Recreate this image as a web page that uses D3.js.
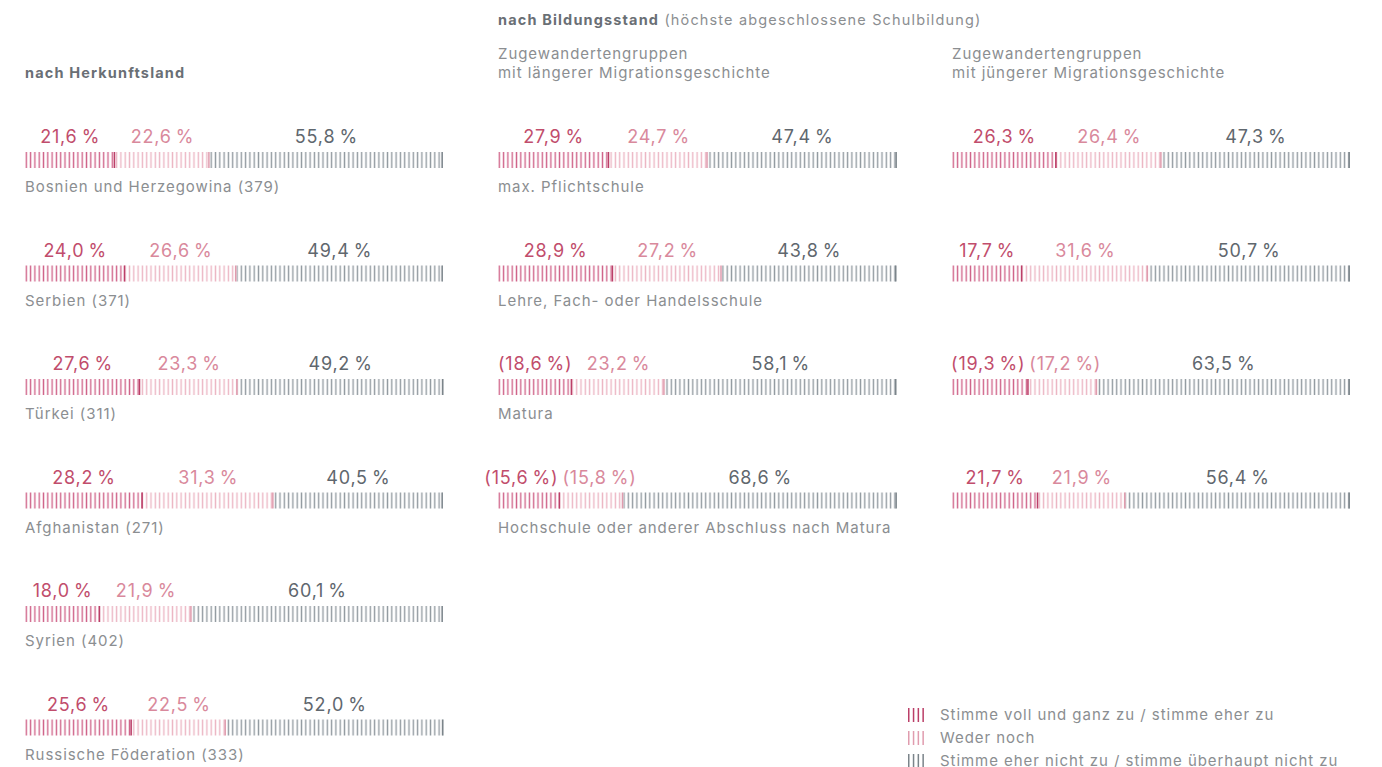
<!DOCTYPE html>
<html><head><meta charset="utf-8">
<script src="https://cdn.jsdelivr.net/npm/d3@7"></script>
<style>
html,body{margin:0;padding:0;background:#fff;}
svg text{font-family:Inter,"Noto Sans",sans-serif;}
</style></head>
<body>
<svg id="c" width="1382" height="767"></svg>
<script>
// ---- data ----
const segmentKeys = ["zu", "weder", "nicht"];
const legendLabels = ["Stimme voll und ganz zu / stimme eher zu", "Weder noch", "Stimme eher nicht zu / stimme überhaupt nicht zu"];

const herkunftCategories = ["Bosnien und Herzegowina (379)", "Serbien (371)", "Türkei (311)", "Afghanistan (271)", "Syrien (402)", "Russische Föderation (333)"];
const herkunftZu    = [21.6, 24.0, 27.6, 28.2, 18.0, 25.6];
const herkunftWeder = [22.6, 26.6, 23.3, 31.3, 21.9, 22.5];
const herkunftNicht = [55.8, 49.4, 49.2, 40.5, 60.1, 52.0];
const herkunftParen = [[0,0,0],[0,0,0],[0,0,0],[0,0,0],[0,0,0],[0,0,0]];

const bildungCategories = ["max. Pflichtschule", "Lehre, Fach- oder Handelsschule", "Matura", "Hochschule oder anderer Abschluss nach Matura"];
const laengerZu    = [27.9, 28.9, 18.6, 15.6];
const laengerWeder = [24.7, 27.2, 23.2, 15.8];
const laengerNicht = [47.4, 43.8, 58.1, 68.6];
const laengerParen = [[0,0,0],[0,0,0],[1,0,0],[1,1,0]];

const juengerZu    = [26.3, 17.7, 19.3, 21.7];
const juengerWeder = [26.4, 31.6, 17.2, 21.9];
const juengerNicht = [47.3, 50.7, 63.5, 56.4];
const juengerParen = [[0,0,0],[0,0,0],[1,1,0],[0,0,0]];

// ---- styles ----
const stripeColor = {zu:"#d0648a", weder:"#ecb6c4", nicht:"#939ba1"};
const edgeColor   = {zu:"#bb3f68", weder:"#e09cae", nicht:"#7b848a"};
const labelColor  = {zu:"#c14d6c", weder:"#d9899c", nicht:"#5f676e"};
const greyText = "#8b8e91";
const headText = "#6a6f75";

const svg = d3.select("#c");
const defs = svg.append("defs");
const period = 4.3, stripeW = 1.4;
segmentKeys.forEach(k => {
  const p = defs.append("pattern").attr("id", "pat-" + k)
    .attr("patternUnits", "userSpaceOnUse").attr("width", period).attr("height", 20);
  p.append("rect").attr("x", 0.6).attr("y", 0).attr("width", stripeW).attr("height", 20).attr("fill", stripeColor[k]);
});

function fmt(v, paren) {
  const s = v.toFixed(1).replace(".", ",") + "\u2009%";
  return paren ? "(" + s + ")" : s;
}

const rowY = d3.scaleLinear().domain([0, 1]).range([0, 113.5]);
const firstRow = 136;

function panel(x0, x1, cats, zu, weder, nicht, paren) {
  const xs = d3.scaleLinear().domain([0, 100]).range([0, x1 - x0]);
  const g = svg.append("g").attr("transform", `translate(${x0},0)`);
  const n = zu.length;
  for (let i = 0; i < n; i++) {
    const vals = [zu[i], weder[i], nicht[i]];
    const cy = firstRow + rowY(i);
    const row = g.append("g").attr("transform", `translate(0,${cy})`);
    let acc = 0;
    const segs = vals.map((v, j) => { const s = {key: segmentKeys[j], v, start: acc, end: acc + v, paren: paren[i][j]}; acc += v; return s; });
    row.selectAll("rect.seg").data(segs).join("rect").attr("class", "seg")
      .attr("x", d => xs(d.start)).attr("y", 16).attr("height", 16)
      .attr("width", d => Math.max(0, xs(d.end) - xs(d.start)))
      .attr("fill", d => `url(#pat-${d.key})`);
    row.selectAll("rect.edge").data(segs).join("rect").attr("class", "edge")
      .attr("x", d => xs(d.end) - 1.6).attr("y", 16).attr("height", 16).attr("width", 1.5)
      .attr("fill", d => edgeColor[d.key]);
    const labels = row.selectAll("text.val").data(segs).join("text").attr("class", "val")
      .attr("x", d => xs((d.start + d.end) / 2)).attr("y", 7)
      .attr("text-anchor", "middle").attr("font-size", 18).attr("letter-spacing", 0.8)
      .attr("fill", d => labelColor[d.key])
      .text(d => fmt(d.v, d.paren));
    // simple collision avoidance between neighbouring labels
    const nodes = labels.nodes();
    for (let j = 0; j < nodes.length - 1; j++) {
      const a = nodes[j].getBBox(), b = nodes[j + 1].getBBox();
      const gap = b.x - (a.x + a.width);
      const minGap = 4;
      if (gap < minGap) {
        const d = (minGap - gap) / 2;
        nodes[j].setAttribute("x", +nodes[j].getAttribute("x") - d);
        nodes[j + 1].setAttribute("x", +nodes[j + 1].getAttribute("x") + d);
      }
    }
    if (cats) {
      row.append("text").attr("x", 0).attr("y", 56).attr("font-size", 15).attr("letter-spacing", 0.95)
        .attr("fill", greyText).text(cats[i]);
    }
  }
}

panel(25, 443, herkunftCategories, herkunftZu, herkunftWeder, herkunftNicht, herkunftParen);
panel(498, 897, bildungCategories, laengerZu, laengerWeder, laengerNicht, laengerParen);
panel(952, 1350, null, juengerZu, juengerWeder, juengerNicht, juengerParen);

// headings
svg.append("text").attr("x", 25).attr("y", 78).attr("font-size", 14.5).attr("font-weight", 700)
  .attr("letter-spacing", 1.15).attr("fill", headText).text("nach Herkunftsland");
const h2 = svg.append("text").attr("x", 498).attr("y", 25).attr("font-size", 14.5).attr("letter-spacing", 1.15).attr("fill", headText);
h2.append("tspan").attr("font-weight", 700).text("nach Bildungsstand");
h2.append("tspan").attr("fill", greyText).text(" (höchste abgeschlossene Schulbildung)");
[[498, "mit längerer Migrationsgeschichte"], [952, "mit jüngerer Migrationsgeschichte"]].forEach(([x, t]) => {
  svg.append("text").attr("x", x).attr("y", 59).attr("font-size", 15).attr("letter-spacing", 0.95).attr("fill", greyText).text("Zugewandertengruppen");
  svg.append("text").attr("x", x).attr("y", 78).attr("font-size", 15).attr("letter-spacing", 0.95).attr("fill", greyText).text(t);
});

// legend
const lg = svg.append("g").attr("transform", "translate(908,708)");
segmentKeys.forEach((k, i) => {
  const r = lg.append("g").attr("transform", `translate(0,${i * 23})`);
  r.selectAll("rect").data(d3.range(4)).join("rect")
    .attr("x", d => d * 4.8).attr("y", 0).attr("width", 1.5).attr("height", 14).attr("fill", edgeColor[k]);
  r.append("text").attr("x", 32).attr("y", 12).attr("font-size", 15).attr("letter-spacing", 0.95)
    .attr("fill", greyText).text(legendLabels[i]);
});
</script>
</body></html>
